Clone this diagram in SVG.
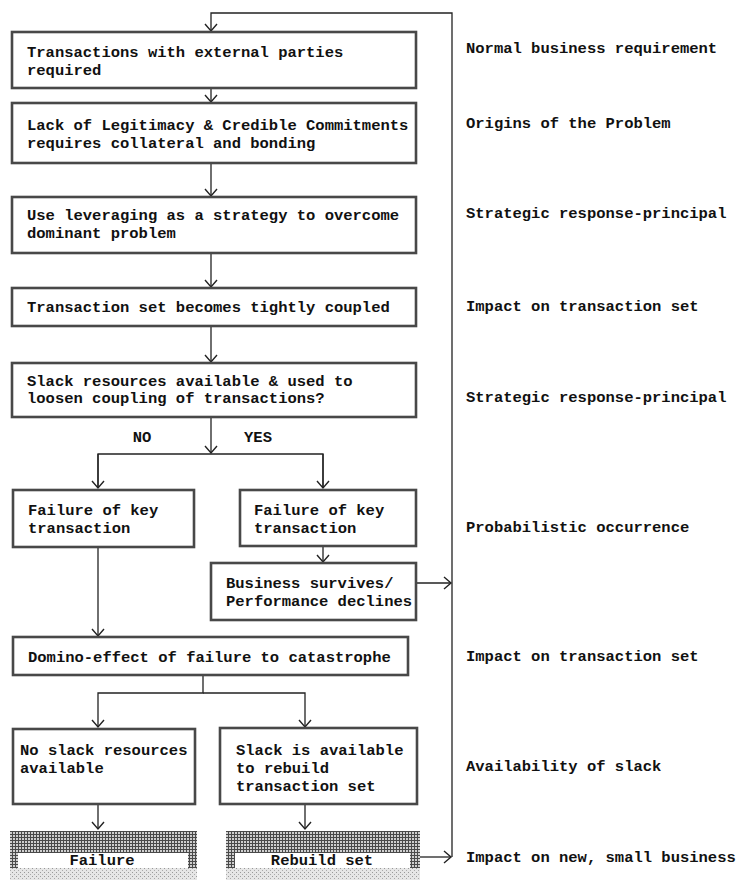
<svg xmlns="http://www.w3.org/2000/svg" width="740" height="882" viewBox="0 0 740 882">
<style>
  text { font-family: "Liberation Mono", "Courier New", monospace; font-weight: bold; font-size: 15.5px; fill: #111; }
  .box { fill: #fff; stroke: #484848; stroke-width: 2.6; }
  .conn { fill: none; stroke: #222; stroke-width: 1.3; }
  .mid { text-anchor: middle; }
</style>
<defs>
  <marker id="arr" markerUnits="userSpaceOnUse" markerWidth="10" markerHeight="14" viewBox="-1 -7 10 14" refX="7" refY="0" orient="auto">
    <path d="M0,-6 L7,0 L0,6" fill="none" stroke="#222" stroke-width="1.4"/>
  </marker>
  <pattern id="hatch" width="3" height="3" patternUnits="userSpaceOnUse">
    <rect width="3" height="3" fill="#cfcfcf"/>
    <path d="M0,0.5 H3 M0.5,0 V3" stroke="#4a4a4a" stroke-width="1"/>
  </pattern>
  <pattern id="stipple" width="4" height="4" patternUnits="userSpaceOnUse">
    <rect width="4" height="4" fill="#e6e6e6"/>
    <rect x="0" y="0" width="1" height="1" fill="#999"/>
    <rect x="2" y="2" width="1" height="1" fill="#aaa"/>
  </pattern>
</defs>

<g id="connectors">
  <path class="conn" d="M452,857 V13 H211 V31" marker-end="url(#arr)"/>
  <path class="conn" d="M211,88 V102" marker-end="url(#arr)"/>
  <path class="conn" d="M211,163 V196" marker-end="url(#arr)"/>
  <path class="conn" d="M211,253 V287" marker-end="url(#arr)"/>
  <path class="conn" d="M211,326 V362" marker-end="url(#arr)"/>
  <path class="conn" d="M211,417 V453" marker-end="url(#arr)"/>
  <path class="conn" d="M98,488 V454 H323 V488"/>
  <path class="conn" d="M98,454 V488" marker-end="url(#arr)"/>
  <path class="conn" d="M323,454 V488" marker-end="url(#arr)"/>
  <path class="conn" d="M323,546 V562" marker-end="url(#arr)"/>
  <path class="conn" d="M416,583 H451" marker-end="url(#arr)"/>
  <path class="conn" d="M98,547 V636" marker-end="url(#arr)"/>
  <path class="conn" d="M203,675 V693 H98 V727" marker-end="url(#arr)"/>
  <path class="conn" d="M203,693 H305 V727" marker-end="url(#arr)"/>
  <path class="conn" d="M98,804 V829" marker-end="url(#arr)"/>
  <path class="conn" d="M305,804 V829" marker-end="url(#arr)"/>
  <path class="conn" d="M420,857 H451" marker-end="url(#arr)"/>
</g>

<g id="n1">
  <rect class="box" x="12" y="32" width="404" height="56"/>
  <text x="27" y="57">Transactions with external parties</text>
  <text x="27" y="75">required</text>
</g>
<g id="n2">
  <rect class="box" x="12" y="103" width="404" height="60"/>
  <text x="27" y="130">Lack of Legitimacy &amp; Credible Commitments</text>
  <text x="27" y="148">requires collateral and bonding</text>
</g>
<g id="n3">
  <rect class="box" x="12" y="197" width="404" height="56"/>
  <text x="27" y="220">Use leveraging as a strategy to overcome</text>
  <text x="27" y="238">dominant problem</text>
</g>
<g id="n4">
  <rect class="box" x="12" y="288" width="404" height="38"/>
  <text x="27" y="312">Transaction set becomes tightly coupled</text>
</g>
<g id="n5">
  <rect class="box" x="12" y="363" width="404" height="54"/>
  <text x="27" y="386">Slack resources available &amp; used to</text>
  <text x="27" y="403">loosen coupling of transactions?</text>
  <text class="mid" x="142" y="442">NO</text>
  <text class="mid" x="258" y="442">YES</text>
</g>
<g id="n6">
  <rect class="box" x="13" y="490" width="181" height="57"/>
  <text x="28" y="515">Failure of key</text>
  <text x="28" y="533">transaction</text>
</g>
<g id="n7">
  <rect class="box" x="240" y="490" width="176" height="56"/>
  <text x="254" y="515">Failure of key</text>
  <text x="254" y="533">transaction</text>
</g>
<g id="n8">
  <rect class="box" x="211" y="563" width="205" height="57"/>
  <text x="226" y="588">Business survives/</text>
  <text x="226" y="606">Performance declines</text>
</g>
<g id="n9">
  <rect class="box" x="13" y="637" width="395" height="38"/>
  <text x="28" y="662">Domino-effect of failure to catastrophe</text>
</g>
<g id="n10">
  <rect class="box" x="13" y="729" width="182" height="75"/>
  <text x="20" y="755">No slack resources</text>
  <text x="20" y="773">available</text>
</g>
<g id="n11">
  <rect class="box" x="220" y="728" width="197" height="76"/>
  <text x="236" y="755">Slack is available</text>
  <text x="236" y="773">to rebuild</text>
  <text x="236" y="791">transaction set</text>
</g>
<g id="n12">
  <rect x="10" y="831" width="187" height="37" fill="url(#hatch)"/>
  <rect x="10" y="868" width="187" height="12" fill="url(#stipple)"/>
  <rect x="18" y="853" width="170" height="15" fill="#fff"/>
  <text class="mid" x="102" y="865">Failure</text>
</g>
<g id="n13">
  <rect x="226" y="831" width="194" height="37" fill="url(#hatch)"/>
  <rect x="226" y="868" width="194" height="12" fill="url(#stipple)"/>
  <rect x="235" y="853" width="175" height="15" fill="#fff"/>
  <text class="mid" x="322" y="865">Rebuild set</text>
</g>

<g id="labels">
  <text x="466" y="53">Normal business requirement</text>
  <text x="466" y="128">Origins of the Problem</text>
  <text x="466" y="218">Strategic response-principal</text>
  <text x="466" y="311">Impact on transaction set</text>
  <text x="466" y="402">Strategic response-principal</text>
  <text x="466" y="532">Probabilistic occurrence</text>
  <text x="466" y="661">Impact on transaction set</text>
  <text x="466" y="771">Availability of slack</text>
  <text x="466" y="862">Impact on new, small business</text>
</g>
</svg>
